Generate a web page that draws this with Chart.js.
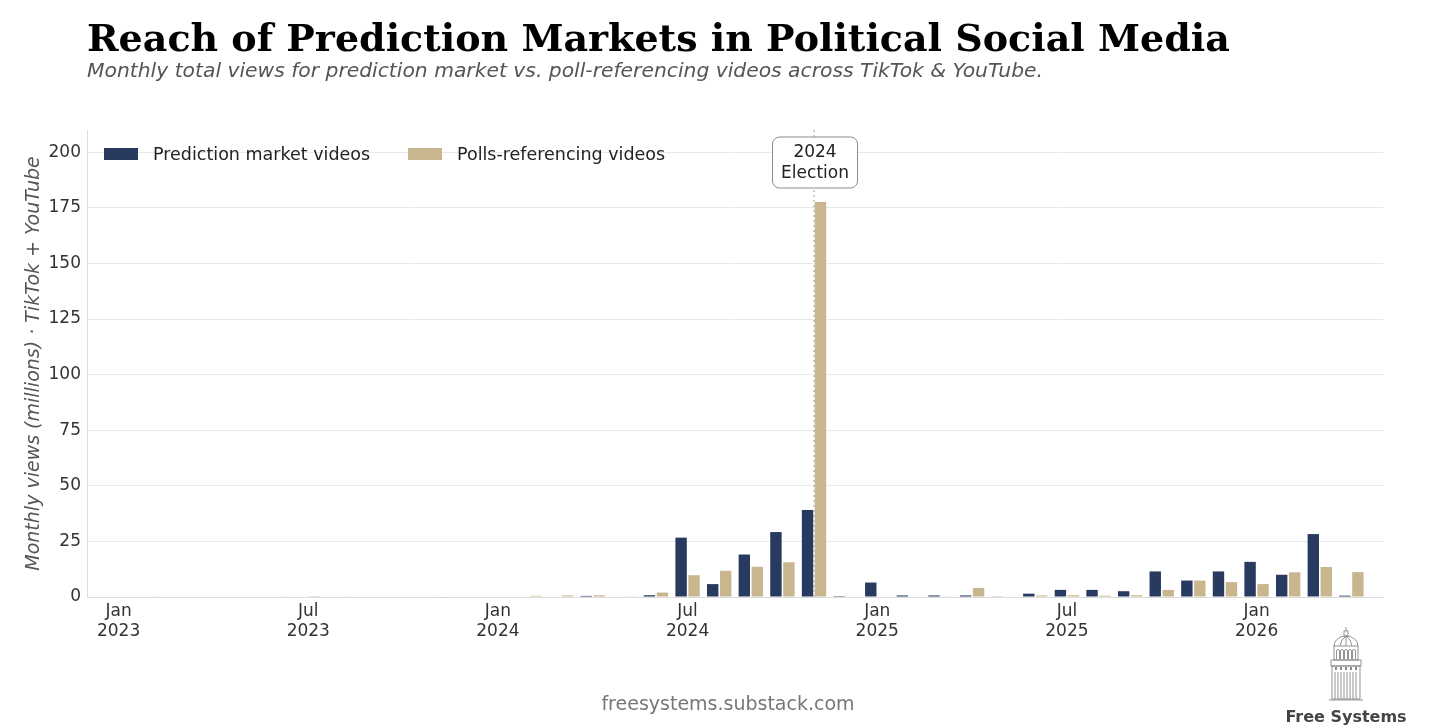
<!DOCTYPE html>
<html>
<head>
<meta charset="utf-8">
<script src="https://cdn.jsdelivr.net/npm/chart.js@4.4.1/dist/chart.umd.min.js"></script>
<style>
  html, body { margin: 0; padding: 0; background: #fff; overflow: hidden; }
  #wrap { position: relative; width: 1456px; height: 728px; }
</style>
</head>
<body>
<div id="wrap"><canvas id="reach-chart" width="1456" height="728"></canvas></div>
<script>
// Months on the x axis (one empty month padded at each end)
const months = [
    '2022-12',
    '2023-01', '2023-02', '2023-03', '2023-04', '2023-05', '2023-06',
    '2023-07', '2023-08', '2023-09', '2023-10', '2023-11', '2023-12',
    '2024-01', '2024-02', '2024-03', '2024-04', '2024-05', '2024-06',
    '2024-07', '2024-08', '2024-09', '2024-10', '2024-11', '2024-12',
    '2025-01', '2025-02', '2025-03', '2025-04', '2025-05', '2025-06',
    '2025-07', '2025-08', '2025-09', '2025-10', '2025-11', '2025-12',
    '2026-01', '2026-02', '2026-03', '2026-04',
    '2026-05'
];

// Monthly views, millions
const predictionViews = [
    null,
    0, 0, 0, 0, 0, 0,
    0, 0, 0, 0, 0, 0,
    0, 0, 0, 0.5, 0, 0.8,
    26.7, 5.8, 19.1, 29.2, 39.1, 0.4,
    6.5, 0.7, 0.7, 0.7, 0.3, 1.5,
    3.2, 3.2, 2.6, 11.5, 7.4, 11.5,
    15.8, 10.0, 28.3, 0.6,
    null
];
const pollViews = [
    null,
    0, 0.2, 0, 0, 0, 0.2,
    0.4, 0.2, 0, 0, 0.2, 0,
    0, 0.5, 0.7, 0.8, 0.3, 2.0,
    9.8, 11.8, 13.6, 15.6, 177.6, 0,
    0, 0, 0.3, 4.1, 0, 0.7,
    0.8, 0.6, 0.8, 3.2, 7.4, 6.7,
    5.8, 11.1, 13.5, 11.2,
    null
];

const yTicks = [0, 25, 50, 75, 100, 125, 150, 175, 200];
const monthNames = { '01': 'Jan', '07': 'Jul' };

const seriesNames = ['Prediction market videos', 'Polls-referencing videos'];
const seriesColors = ['#283a60', '#c8b68f'];

const electionMonth = '2024-11';
const electionLabel = ['2024', 'Election'];

const titleText = 'Reach of Prediction Markets in Political Social Media';
const subtitleText = 'Monthly total views for prediction market vs. poll-referencing videos across TikTok & YouTube.';
const yTitleText = 'Monthly views (millions) \u00b7 TikTok + YouTube';
const footerText = 'freesystems.substack.com';
const brandText = 'Free Systems';

const SANS = '"DejaVu Sans", "Liberation Sans", sans-serif';
const SERIF = '"DejaVu Serif", "Liberation Serif", serif';

// Draw the small capitol logo
function drawLogo(ctx, cx, base) {
    ctx.save();
    ctx.strokeStyle = '#7a7a7a';
    ctx.lineWidth = 0.8;
    // plinth
    ctx.beginPath();
    ctx.moveTo(cx - 17, base); ctx.lineTo(cx + 17, base);
    ctx.stroke();
    // lower colonnade
    ctx.strokeRect(cx - 14, base - 34, 28, 33);
    for (let x = cx - 11; x <= cx + 11; x += 3) {
        ctx.beginPath(); ctx.moveTo(x, base - 28); ctx.lineTo(x, base - 1); ctx.stroke();
    }
    // band with windows
    ctx.strokeRect(cx - 15, base - 40, 30, 6);
    ctx.fillStyle = '#8a8a8a';
    for (let x = cx - 11; x <= cx + 9; x += 5) ctx.fillRect(x, base - 33, 2, 3);
    // drum with arches
    ctx.strokeRect(cx - 12, base - 54, 24, 14);
    for (let x = cx - 8; x <= cx + 8; x += 4) {
        ctx.beginPath();
        ctx.moveTo(x - 1.5, base - 41);
        ctx.lineTo(x - 1.5, base - 49);
        ctx.arc(x, base - 49, 1.5, Math.PI, 2 * Math.PI);
        ctx.lineTo(x + 1.5, base - 41);
        ctx.stroke();
    }
    // dome
    ctx.beginPath();
    ctx.ellipse(cx, base - 54, 12, 10, 0, Math.PI, 2 * Math.PI);
    ctx.stroke();
    ctx.beginPath();
    ctx.moveTo(cx - 6, base - 54); ctx.quadraticCurveTo(cx - 5, base - 61, cx, base - 64);
    ctx.moveTo(cx + 6, base - 54); ctx.quadraticCurveTo(cx + 5, base - 61, cx, base - 64);
    ctx.moveTo(cx, base - 54); ctx.lineTo(cx, base - 64);
    ctx.stroke();
    // lantern
    ctx.strokeRect(cx - 2, base - 69, 4, 5);
    ctx.beginPath(); ctx.moveTo(cx, base - 69); ctx.lineTo(cx, base - 73); ctx.stroke();
    ctx.restore();
}

// Titles, legend, election marker, footer
const decorPlugin = {
    id: 'decor',
    beforeDraw(chart) {
        const ctx = chart.ctx;
        ctx.save();
        ctx.fillStyle = '#ffffff';
        ctx.fillRect(0, 0, chart.width, chart.height);
        ctx.restore();
    },
    afterDatasetsDraw(chart) {
        const ctx = chart.ctx;
        const area = chart.chartArea;
        const x = chart.scales.x.getPixelForValue(months.indexOf(electionMonth));

        // dotted marker line
        ctx.save();
        ctx.strokeStyle = '#9a9a9a';
        ctx.lineWidth = 1;
        ctx.setLineDash([2, 3]);
        ctx.beginPath();
        ctx.moveTo(x, area.top);
        ctx.lineTo(x, area.bottom);
        ctx.stroke();
        ctx.setLineDash([]);

        // label box
        const w = 85, h = 51, top = area.top + 7;
        ctx.beginPath();
        ctx.roundRect(x - w / 2 + 1, top, w, h, 7);
        ctx.fillStyle = '#ffffff';
        ctx.fill();
        ctx.strokeStyle = '#8c8c8c';
        ctx.stroke();
        ctx.fillStyle = '#222';
        ctx.font = '17px ' + SANS;
        ctx.textAlign = 'center';
        ctx.textBaseline = 'middle';
        ctx.fillText(electionLabel[0], x + 1, top + 16);
        ctx.fillText(electionLabel[1], x + 1, top + 37);
        ctx.restore();
    },
    afterDraw(chart) {
        const ctx = chart.ctx;
        const area = chart.chartArea;
        ctx.save();

        // title + subtitle
        ctx.textAlign = 'left';
        ctx.textBaseline = 'alphabetic';
        ctx.fillStyle = '#000';
        ctx.font = 'bold 38px ' + SERIF;
        ctx.fillText(titleText, area.left, 51);
        ctx.fillStyle = '#555';
        ctx.font = 'italic 20.3px ' + SANS;
        ctx.fillText(subtitleText, area.left, 77);

        // y axis title
        ctx.save();
        ctx.translate(34, (area.top + area.bottom) / 2);
        ctx.rotate(-Math.PI / 2);
        ctx.textAlign = 'center';
        ctx.textBaseline = 'middle';
        ctx.fillStyle = '#555';
        ctx.font = 'italic 19px ' + SANS;
        ctx.fillText(yTitleText, 0, 0);
        ctx.restore();

        // legend
        ctx.font = '17.5px ' + SANS;
        ctx.textBaseline = 'middle';
        const legendX = [area.left + 17, area.left + 321];
        seriesNames.forEach((name, i) => {
            ctx.fillStyle = seriesColors[i];
            ctx.fillRect(legendX[i], area.top + 18, 34, 12);
            ctx.fillStyle = '#222';
            ctx.fillText(name, legendX[i] + 49, area.top + 25);
        });

        // footer
        ctx.textAlign = 'center';
        ctx.textBaseline = 'alphabetic';
        ctx.fillStyle = '#777';
        ctx.font = '19px ' + SANS;
        ctx.fillText(footerText, chart.width / 2, 710);

        // brand
        drawLogo(ctx, 1346, 700);
        ctx.fillStyle = '#444';
        ctx.font = 'bold 16px ' + SANS;
        ctx.fillText(brandText, 1346, 722);
        ctx.restore();
    }
};

const ctx = document.getElementById('reach-chart').getContext('2d');
const reachChart = new Chart(ctx, {
    type: 'bar',
    data: {
        labels: months,
        datasets: [{
            label: seriesNames[0],
            data: predictionViews,
            backgroundColor: seriesColors[0],
            categoryPercentage: 0.82,
            barPercentage: 0.88
        }, {
            label: seriesNames[1],
            data: pollViews,
            backgroundColor: seriesColors[1],
            categoryPercentage: 0.82,
            barPercentage: 0.88
        }]
    },
    options: {
        responsive: false,
        animation: false,
        devicePixelRatio: 1,
        layout: {
            padding: { top: 130, right: 73, left: 0, bottom: 0 }
        },
        scales: {
            x: {
                offset: false,
                grid: { display: false, drawTicks: false },
                border: { display: true, color: '#dddddd' },
                afterFit: (scale) => { scale.height = 131; },
                ticks: {
                    autoSkip: false,
                    maxRotation: 0,
                    padding: 4,
                    color: '#333',
                    font: { family: SANS, size: 17 },
                    callback: function (value) {
                        const m = this.getLabelForValue(value);
                        const [yr, mo] = m.split('-');
                        return monthNames[mo] ? [monthNames[mo], yr] : '';
                    }
                }
            },
            y: {
                min: 0,
                max: 210,
                grid: { color: '#e9e9e9', drawTicks: false },
                border: { display: true, color: '#dddddd' },
                afterFit: (scale) => { scale.width = 87; },
                afterBuildTicks: (scale) => {
                    scale.ticks = yTicks.map(v => ({ value: v }));
                },
                ticks: {
                    padding: 6,
                    color: '#333',
                    font: { family: SANS, size: 17 }
                }
            }
        },
        plugins: {
            legend: { display: false },
            tooltip: { enabled: false }
        }
    },
    plugins: [decorPlugin]
});
</script>
</body>
</html>
